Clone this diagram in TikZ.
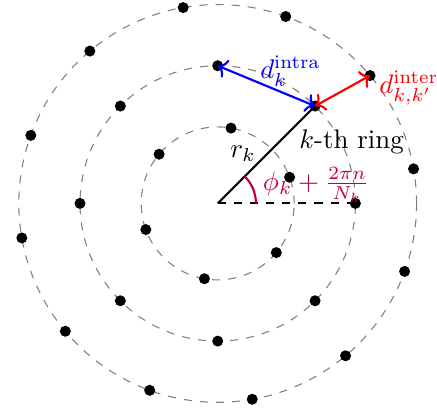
\documentclass[tikz,border=0pt]{standalone}
\usetikzlibrary{arrows.meta}
\begin{document}
\begin{tikzpicture}[
  ring/.style={draw=gray, dashed, thin},
  dot/.style={circle, fill=black, inner sep=0pt, minimum size=4.1pt},
  dist/.style={<->, thick},
  lbl/.style={inner sep=1pt}
]
\useasboundingbox (-2.846,-2.714) rectangle (2.867,2.659);
\coordinate (O) at (0,0);
% rings
\draw[ring] (O) circle (1);
\draw[ring] (O) circle (1.8);
\draw[ring] (O) circle (2.6);
% dots
\foreach \i in {0,...,5} \node[dot] (a\i) at ({20+60*\i}:1) {};
\foreach \i in {0,...,7} \node[dot] (b\i) at ({45*\i}:1.8) {};
\foreach \i in {0,...,11} \node[dot] (c\i) at ({10+30*\i}:2.6) {};
% radius and angle
\draw[thick, dashed] (O) -- (b0.center);
\draw[thick] (O) -- (b1.center);
\draw[thick, purple] (0.5,0) arc (0:45:0.5);
\node[lbl, purple, anchor=west] (phi) at (0.55,0.24) {$\phi_k + \frac{2\pi n}{N_k}$};
\node[lbl] (rk) at (0.33,0.65) {$r_k$};
\node[lbl] (ring) at (1.75,0.80) {$k$-th ring};
% distances
\draw[dist, blue] (b1.center) -- (b2.center);
\draw[dist, red] (b1.center) -- (c1.center);
\node[lbl, blue] (dintra) at (0.95,1.73) {$d_k^{\mathrm{intra}}$};
\node[lbl, red, anchor=west] (dinter) at (2.07,1.51) {$d_{k,k'}^{\mathrm{inter}}$};
\end{tikzpicture}
\end{document}
